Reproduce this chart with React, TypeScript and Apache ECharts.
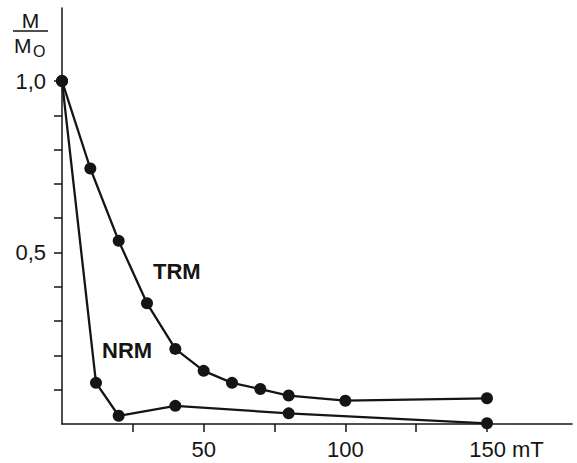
import React, { useEffect, useRef } from "react";
import * as echarts from "echarts";

const trmX = [0, 10, 20, 30, 40, 50, 60, 70, 80, 100, 150];
const trmY = [1.0, 0.745, 0.534, 0.352, 0.219, 0.155, 0.12, 0.102, 0.083, 0.068, 0.075];
const nrmX = [0, 12, 20, 40, 80, 150];
const nrmY = [1.0, 0.12, 0.024, 0.053, 0.031, 0.002];

const xTicks = [25, 50, 75, 100, 125, 150];
const xLabels = [50, 100, 150];
const yTicks = [0.1, 0.2, 0.3, 0.4, 0.5, 0.6, 0.7, 0.8, 0.9, 1.0];
const yLabels = [0.5, 1.0];
const seriesNames = ["TRM", "NRM"];

const FONT = '"Liberation Sans", Arial, sans-serif';
const INK = "#151515";

export default function App() {
  const ref = useRef<HTMLDivElement>(null);
  useEffect(() => {
    if (!ref.current) return;
    const chart = echarts.init(ref.current, undefined, { renderer: "svg" });
    const mk = (xs: number[], ys: number[], name: string) => ({
      type: "line",
      name,
      data: xs.map((x, i) => [x, ys[i]]),
      symbol: "circle",
      symbolSize: 12,
      lineStyle: { color: INK, width: 2.3 },
      itemStyle: { color: INK },
      z: 3,
    });
    chart.setOption({
      animation: false,
      backgroundColor: "#ffffff",
      grid: { left: 62, top: 8, width: 510, height: 416 },
      xAxis: {
        type: "value",
        min: 0,
        max: 180,
        splitLine: { show: false },
        axisLine: { show: true, lineStyle: { color: INK, width: 1.5 } },
        axisTick: { show: true, customValues: xTicks, length: 8, lineStyle: { color: INK, width: 1.5 } },
        axisLabel: {
          customValues: xLabels,
          margin: 14,
          color: INK,
          fontFamily: FONT,
          fontSize: 22,
          formatter: (v: number) => (v === 150 ? "{u|150 mT}" : String(v)),
          rich: { u: { fontFamily: FONT, fontSize: 22, color: INK, padding: [0, 0, 0, 39] } },
        },
      },
      yAxis: {
        type: "value",
        min: 0,
        max: 1.213,
        splitLine: { show: false },
        axisLine: { show: true, lineStyle: { color: INK, width: 1.5 } },
        axisTick: { show: true, customValues: yTicks, length: 8, lineStyle: { color: INK, width: 1.5 } },
        axisLabel: {
          customValues: yLabels,
          margin: 16,
          color: INK,
          fontFamily: FONT,
          fontSize: 22,
          formatter: (v: number) => v.toFixed(1).replace(".", ","),
        },
      },
      series: [mk(trmX, trmY, seriesNames[0]), mk(nrmX, nrmY, seriesNames[1])],
      graphic: [
        { type: "text", left: 153, top: 260, style: { text: seriesNames[0], font: `bold 22px ${FONT}`, fill: INK } },
        { type: "text", left: 102, top: 339, style: { text: seriesNames[1], font: `bold 22px ${FONT}`, fill: INK } },
        { type: "text", x: 30.5, y: 20, style: { text: "M", font: `21px ${FONT}`, fill: INK, align: "center", verticalAlign: "middle" } },
        { type: "line", shape: { x1: 13, y1: 31, x2: 48, y2: 31 }, style: { stroke: INK, lineWidth: 1.5 } },
        { type: "text", x: 14, y: 45, style: { text: "M", font: `21px ${FONT}`, fill: INK, align: "left", verticalAlign: "middle" } },
        { type: "text", x: 33, y: 51.5, style: { text: "O", font: `16px ${FONT}`, fill: INK, align: "left", verticalAlign: "middle" } },
      ],
    });
    return () => chart.dispose();
  }, []);
  return <div ref={ref} style={{ position: "fixed", left: 0, top: 0, width: 577, height: 463 }} />;
}
